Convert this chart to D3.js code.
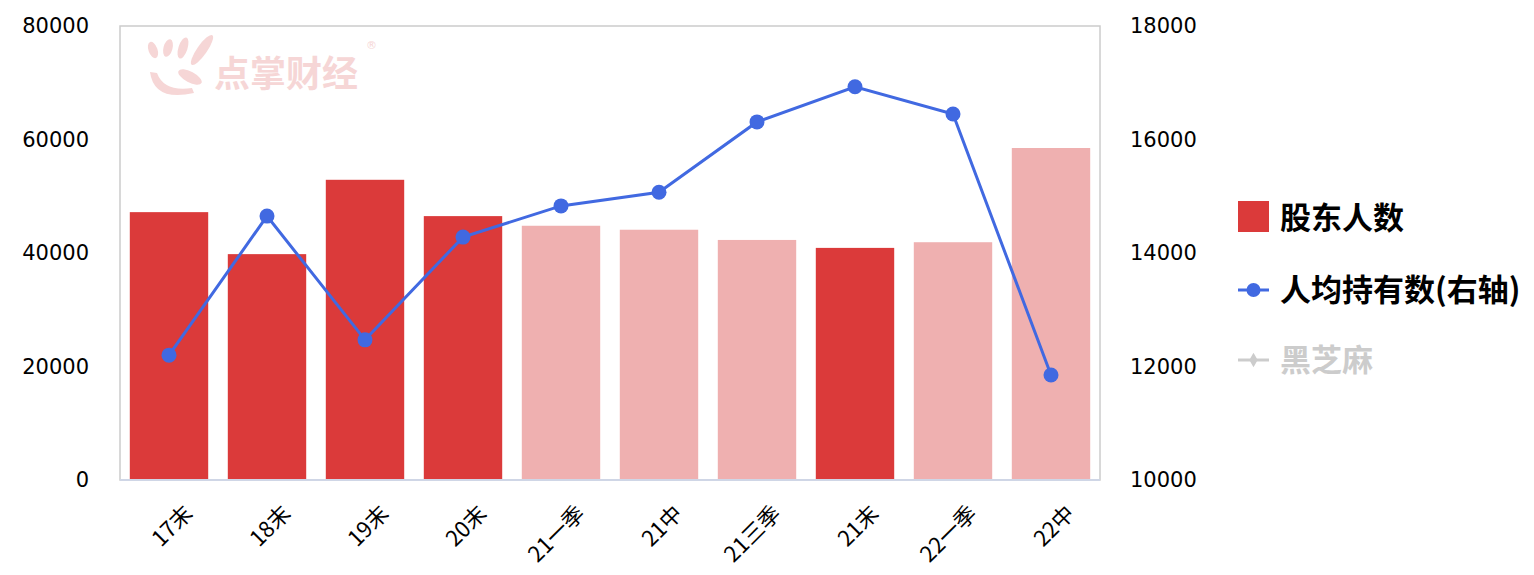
<!DOCTYPE html>
<html>
<head>
<meta charset="utf-8">
<script src="https://cdn.jsdelivr.net/npm/d3@7"></script>
<style>
  body { margin: 0; background: #fff; }
  text { font-family: "DejaVu Sans", Verdana, sans-serif; }
</style>
</head>
<body>
<div id="chart"></div>
<script>
// data
var categories = ["17末", "18末", "19末", "20末", "21一季", "21中", "21三季", "21末", "22一季", "22中"];
var holders = [47200, 39800, 52900, 46500, 44800, 44100, 42300, 40900, 41900, 58500];
var perHolder = [12200, 14650, 12470, 14280, 14830, 15070, 16310, 16930, 16450, 11850];
// year-end reports are dark, interim reports light
var isYearEnd = [true, true, true, true, false, false, false, true, false, false];
var leftTicks = [0, 20000, 40000, 60000, 80000];
var rightTicks = [10000, 12000, 14000, 16000, 18000];
var legendNames = ["股东人数", "人均持有数(右轴)", "黑芝麻"];

var W = 1534, H = 575;
var margin = {top: 26, right: 434, bottom: 95, left: 120};
var width = W - margin.left - margin.right,
    height = H - margin.top - margin.bottom;

var svg = d3.select("#chart").append("svg")
    .attr("width", W).attr("height", H);

// watermark (logo + name), page coordinates
var wm = svg.append("g").attr("fill", "#f6d6d6");
[[153, 50, -20, 4.5, 8.5], [168, 48, 15, 4.5, 9], [183, 48, 18, 4.5, 11], [202, 50, 35, 5, 18], [190, 77, 28, 13, 5.5]].forEach(function(f) {
  wm.append("ellipse").attr("cx", f[0]).attr("cy", f[1]).attr("rx", f[3]).attr("ry", f[4])
    .attr("transform", "rotate(" + f[2] + "," + f[0] + "," + f[1] + ")");
});
wm.append("path").attr("d", "M150,72 Q154,102 194,93 L192,88 Q164,92 157,73 Z");
wm.append("text").attr("x", 214).attr("y", 87).attr("font-size", 36).attr("font-weight", "bold")
  .style("font-family", "'Noto Sans CJK SC', sans-serif").text("点掌财经");
wm.append("text").attr("x", 366).attr("y", 49).attr("font-size", 11).text("®");

var g = svg.append("g")
    .attr("transform", "translate(" + margin.left + "," + margin.top + ")");

var x = d3.scaleBand().domain(categories).range([0, width]).paddingInner(0.2).paddingOuter(0.1);
var yL = d3.scaleLinear().domain([0, 80000]).range([height, 0]);
var yR = d3.scaleLinear().domain([10000, 18000]).range([height, 0]);

// plot frame
g.append("rect").attr("x", 0).attr("y", 0).attr("width", width).attr("height", height)
  .attr("fill", "none").attr("stroke", "#cccccc").attr("stroke-width", 1.5);

// bars
g.selectAll(".bar").data(holders).enter().append("rect")
  .attr("x", function(d, i) { return x(categories[i]); })
  .attr("y", function(d) { return yL(d); })
  .attr("width", x.bandwidth())
  .attr("height", function(d) { return height - yL(d); })
  .attr("fill", function(d, i) { return isYearEnd[i] ? "#db3a3a" : "#efb0b0"; });

// bottom axis line
g.append("line").attr("x1", 0).attr("x2", width).attr("y1", height).attr("y2", height)
  .attr("stroke", "#cfd6e6").attr("stroke-width", 2);

// left axis
var axL = g.append("g").call(d3.axisLeft(yL).tickValues(leftTicks).tickFormat(d3.format("d")).tickSize(0).tickPadding(31));
axL.select(".domain").remove();
axL.selectAll("text").attr("font-size", 21).attr("fill", "#000").style("font-family", "'DejaVu Sans', sans-serif");

// right axis
var axR = g.append("g").attr("transform", "translate(" + width + ",0)")
  .call(d3.axisRight(yR).tickValues(rightTicks).tickFormat(d3.format("d")).tickSize(0).tickPadding(30));
axR.select(".domain").remove();
axR.selectAll("text").attr("font-size", 21).attr("fill", "#000").style("font-family", "'DejaVu Sans', sans-serif");

// x labels
var axX = g.append("g").attr("transform", "translate(0," + height + ")")
  .call(d3.axisBottom(x).tickSize(0).tickPadding(0));
axX.select(".domain").remove();
axX.selectAll("text")
  .attr("font-size", 22).attr("fill", "#000")
  .style("text-anchor", "end")
  .attr("y", 0).attr("dy", 0)
  .attr("transform", "translate(25,35) rotate(-45)")
  .style("font-family", "'Noto Sans CJK SC', sans-serif");

// line
var lineColor = "#4169e1";
var line = d3.line()
  .x(function(d, i) { return x(categories[i]) + x.bandwidth() / 2; })
  .y(function(d) { return yR(d); });
g.append("path").datum(perHolder)
  .attr("fill", "none").attr("stroke", lineColor).attr("stroke-width", 3)
  .attr("d", line);
g.selectAll(".dot").data(perHolder).enter().append("circle")
  .attr("cx", function(d, i) { return x(categories[i]) + x.bandwidth() / 2; })
  .attr("cy", function(d) { return yR(d); })
  .attr("r", 7.5).attr("fill", lineColor);

// legend
var lg = svg.append("g").attr("transform", "translate(1238,0)");
lg.append("rect").attr("x", 0).attr("y", 201).attr("width", 31).attr("height", 31).attr("fill", "#db3a3a");
lg.append("line").attr("x1", 0).attr("x2", 31).attr("y1", 290).attr("y2", 290).attr("stroke", lineColor).attr("stroke-width", 3);
lg.append("circle").attr("cx", 15.5).attr("cy", 290).attr("r", 7).attr("fill", lineColor);
lg.append("line").attr("x1", 0).attr("x2", 31).attr("y1", 360).attr("y2", 360).attr("stroke", "#cccccc").attr("stroke-width", 3);
lg.append("path").attr("d", d3.symbol().type(d3.symbolDiamond).size(60)).attr("transform", "translate(15.5,360)").attr("fill", "#cccccc");
var legY = [218, 290, 360];
var legC = ["#000", "#000", "#cccccc"];
legendNames.forEach(function(n, i) {
  lg.append("text").attr("x", 42).attr("y", legY[i]).attr("dy", "0.36em")
    .attr("font-size", 31).attr("font-weight", "bold").attr("fill", legC[i])
    .style("font-family", "'Noto Sans CJK SC', sans-serif").text(n);
});
</script>
</body>
</html>
